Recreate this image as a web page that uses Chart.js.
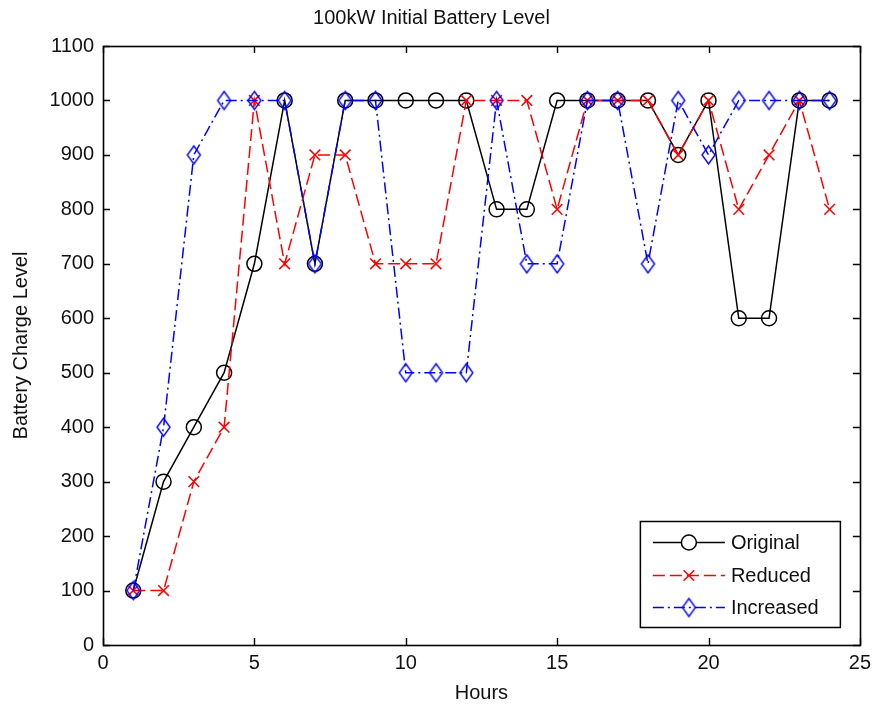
<!DOCTYPE html>
<html>
<head>
<meta charset="utf-8">
<script src="https://cdn.jsdelivr.net/npm/chart.js@4/dist/chart.umd.min.js"></script>
<style>
  html, body { margin: 0; padding: 0; background: #fff; }
  #wrap { width: 877px; height: 706px; }
</style>
</head>
<body>
<div id="wrap"><canvas id="c" width="877" height="706"></canvas></div>
<script>
// Hourly battery charge level for three scenarios
const hours     = [1, 2, 3, 4, 5, 6, 7, 8, 9, 10, 11, 12, 13, 14, 15, 16, 17, 18, 19, 20, 21, 22, 23, 24];
const original  = [100, 300, 400, 500, 700, 1000, 700, 1000, 1000, 1000, 1000, 1000, 800, 800, 1000, 1000, 1000, 1000, 900, 1000, 600, 600, 1000, 1000];
const reduced   = [100, 100, 300, 400, 1000, 700, 900, 900, 700, 700, 700, 1000, 1000, 1000, 800, 1000, 1000, 1000, 900, 1000, 800, 900, 1000, 800];
const increased = [100, 400, 900, 1000, 1000, 1000, 700, 1000, 1000, 500, 500, 500, 1000, 700, 700, 1000, 1000, 700, 1000, 900, 1000, 1000, 1000, 1000];
const seriesNames = ['Original', 'Reduced', 'Increased'];
const chartTitle = '100kW Initial Battery Level';
const xTitle = 'Hours';
const yTitle = 'Battery Charge Level';

const FONT = "'Liberation Sans', Arial, sans-serif";

function toPoints(vals) {
  return vals.map((v, i) => ({ x: hours[i], y: v }));
}

// Open diamond marker, taller than wide
function diamondCanvas(w, h, color, lw) {
  const c = document.createElement('canvas');
  c.width = w + 4; c.height = h + 4;
  const g = c.getContext('2d');
  g.strokeStyle = color; g.lineWidth = lw;
  g.beginPath();
  g.moveTo(c.width / 2, 2);
  g.lineTo(c.width - 2, c.height / 2);
  g.lineTo(c.width / 2, c.height - 2);
  g.lineTo(2, c.height / 2);
  g.closePath();
  g.stroke();
  return c;
}
const diamond = diamondCanvas(13, 18, '#0000ff', 1.4);

const datasets = [
  {
    label: seriesNames[0],
    data: toPoints(original),
    borderColor: '#000000',
    borderWidth: 1.5,
    pointStyle: 'circle',
    pointRadius: 7.5,
    pointBorderWidth: 1.5,
    pointBorderColor: '#000000',
    pointBackgroundColor: 'rgba(0,0,0,0)',
    order: 2
  },
  {
    label: seriesNames[1],
    data: toPoints(reduced),
    borderColor: '#ff0000',
    borderWidth: 1.5,
    borderDash: [12, 5],
    pointStyle: 'crossRot',
    pointRadius: 7.5,
    pointBorderWidth: 1.5,
    pointBorderColor: '#ff0000',
    pointBackgroundColor: 'rgba(0,0,0,0)',
    order: 1
  },
  {
    label: seriesNames[2],
    data: toPoints(increased),
    borderColor: '#0000ff',
    borderWidth: 1.5,
    borderDash: [11, 4, 2, 4],
    pointStyle: diamond,
    pointRadius: 8,
    pointBorderColor: '#0000ff',
    pointBackgroundColor: 'rgba(0,0,0,0)',
    order: 0
  }
];

// Axes box with inward tick marks on all four sides
const boxTicks = {
  id: 'boxTicks',
  afterDatasetsDraw(chart) {
    const { ctx, chartArea: a, scales: { x, y } } = chart;
    const len = 7;
    ctx.save();
    ctx.strokeStyle = '#000';
    ctx.lineWidth = 1.4;
    ctx.beginPath();
    x.ticks.forEach(t => {
      const px = Math.round(x.getPixelForValue(t.value)) + 0.5;
      ctx.moveTo(px, a.bottom); ctx.lineTo(px, a.bottom - len);
      ctx.moveTo(px, a.top); ctx.lineTo(px, a.top + len);
    });
    y.ticks.forEach(t => {
      const py = Math.round(y.getPixelForValue(t.value)) + 0.5;
      ctx.moveTo(a.left, py); ctx.lineTo(a.left + len, py);
      ctx.moveTo(a.right, py); ctx.lineTo(a.right - len, py);
    });
    ctx.stroke();
    ctx.lineWidth = 1.6;
    ctx.strokeRect(Math.round(a.left) + 0.5, Math.round(a.top) + 0.5,
                   Math.round(a.width), Math.round(a.height));
    ctx.restore();
  }
};

// Boxed legend in the lower-right corner of the plot
const insetLegend = {
  id: 'insetLegend',
  afterDraw(chart) {
    const { ctx, chartArea: a } = chart;
    const w = 200, h = 106;
    const x0 = a.right - 20 - w, y0 = a.bottom - 18 - h;
    ctx.save();
    ctx.fillStyle = '#fff';
    ctx.fillRect(x0, y0, w, h);
    ctx.strokeStyle = '#000';
    ctx.lineWidth = 1.5;
    ctx.strokeRect(x0 + 0.5, y0 + 0.5, w, h);
    const rowY = [21, 54, 86];
    chart.data.datasets.forEach((ds, i) => {
      const cy = y0 + rowY[i];
      const lx0 = x0 + 13, lx1 = x0 + 85, mx = x0 + 49;
      ctx.strokeStyle = ds.borderColor;
      ctx.lineWidth = ds.borderWidth;
      ctx.setLineDash(ds.borderDash || []);
      ctx.beginPath();
      ctx.moveTo(lx0, cy + 0.5); ctx.lineTo(lx1, cy + 0.5);
      ctx.stroke();
      ctx.setLineDash([]);
      ctx.strokeStyle = ds.pointBorderColor;
      ctx.lineWidth = ds.pointBorderWidth || 1;
      Chart.helpers.drawPoint(ctx, {
        pointStyle: ds.pointStyle,
        radius: ds.pointRadius,
        borderWidth: ds.pointBorderWidth || 1,
        rotation: 0
      }, mx, cy + 0.5);
      ctx.fillStyle = '#111';
      ctx.font = '20px ' + FONT;
      ctx.textBaseline = 'middle';
      ctx.textAlign = 'left';
      ctx.fillText(ds.label, x0 + 91, cy + 1);
    });
    ctx.restore();
  }
};

new Chart(document.getElementById('c'), {
  type: 'line',
  data: { datasets },
  options: {
    responsive: false,
    devicePixelRatio: 1,
    animation: false,
    layout: { padding: { top: 0, right: 14, bottom: 0, left: 0 } },
    plugins: {
      legend: { display: false },
      tooltip: { enabled: false },
      title: {
        display: true,
        text: chartTitle,
        color: '#111',
        font: { family: FONT, size: 20, weight: 'normal' },
        padding: { top: 6, bottom: 16 }
      }
    },
    scales: {
      x: {
        type: 'linear',
        min: 0, max: 25,
        ticks: { stepSize: 5, color: '#111', font: { family: FONT, size: 20 }, padding: 6, maxRotation: 0,
                 callback: v => String(v) },
        grid: { display: false, drawTicks: false },
        border: { display: false },
        title: { display: true, text: xTitle, color: '#111', font: { family: FONT, size: 20 }, padding: { top: 0, bottom: 1 } },
        afterFit(scale) { scale.height = 61; }
      },
      y: {
        type: 'linear',
        min: 0, max: 1100,
        ticks: { stepSize: 100, color: '#111', font: { family: FONT, size: 20 }, padding: 9,
                 callback: v => String(v) },
        grid: { display: false, drawTicks: false },
        border: { display: false },
        title: { display: true, text: yTitle, color: '#111', font: { family: FONT, size: 20 }, padding: { top: 9, bottom: 0 } },
        afterFit(scale) { scale.width = 103; }
      }
    }
  },
  plugins: [boxTicks, insetLegend]
});
</script>
</body>
</html>
